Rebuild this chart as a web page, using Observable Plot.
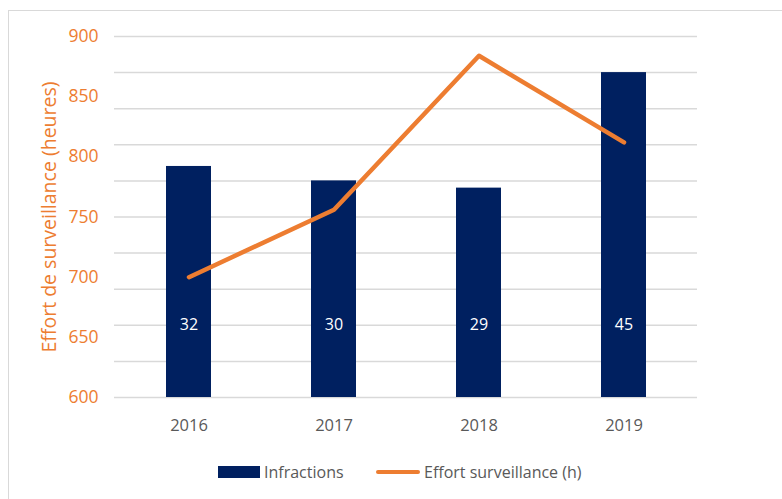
<!DOCTYPE html>
<html>
<head>
<meta charset="utf-8">
<script src="https://cdn.jsdelivr.net/npm/d3@7"></script>
<script src="https://cdn.jsdelivr.net/npm/@observablehq/plot@0.6"></script>
<style>
  html, body { margin: 0; padding: 0; background: #fff; }
  #wrap { position: relative; width: 782px; height: 499px; overflow: hidden; font-family: "Open Sans", sans-serif; }
  #frame { position: absolute; left: 8px; top: 10px; width: 800px; height: 520px; border: 1.5px solid #d9d9d9; box-sizing: border-box; pointer-events: none; }
  #chart { position: absolute; left: 0; top: 0; }
  #legend { position: absolute; left: 0; top: 445px; width: 782px; height: 54px; color: #595959; font-size: 16px; }
  .sw { position: absolute; }
  .lt { position: absolute; line-height: 20px; white-space: nowrap; }
</style>
</head>
<body>
<div id="wrap">
  <div id="chart"></div>
  <div id="legend">
    <div class="sw" style="left:218px; top:21px; width:42px; height:12px; background:#002060;"></div>
    <div class="lt" style="left:264px; top:17px;">Infractions</div>
    <div class="sw" style="left:376px; top:25px; width:44px; height:4px; border-radius:2px; background:#ED7D31;"></div>
    <div class="lt" style="left:424px; top:17px;">Effort surveillance (h)</div>
  </div>
  <div id="frame"></div>
</div>
<script>
const years = ["2016", "2017", "2018", "2019"];
const infractions = [32, 30, 29, 45];
const effort = [700, 756, 884, 812];
const yTicks = [600, 650, 700, 750, 800, 850, 900];
const secondaryTicks = [0, 5, 10, 15, 20, 25, 30, 35, 40, 45, 50];
const labelLevel = 10; // infractions-axis level where the data labels sit

// secondary (infractions) axis 0–50 mapped onto the primary 600–900 axis
const toPrimary = v => 600 + v * (300 / 50);

const data = years.map((y, i) => ({ year: y, inf: infractions[i], effort: effort[i] }));

const orange = "#ED7D31";
const navy = "#002060";

const chart = Plot.plot({
  width: 782,
  height: 445,
  marginTop: 36,
  marginBottom: 48,
  marginLeft: 114,
  marginRight: 85,
  style: { fontFamily: "Open Sans, sans-serif", fontSize: "16px", background: "transparent" },
  x: { domain: years, paddingInner: 0.69, paddingOuter: 0.345, label: null },
  y: { domain: [600, 900], label: null },
  marks: [
    Plot.ruleY(secondaryTicks.map(toPrimary), { stroke: "#d9d9d9", strokeWidth: 1.5 }),
    Plot.barY(data, { x: "year", y1: 600, y2: d => toPrimary(d.inf), fill: navy }),
    Plot.text(data, { x: "year", y: () => toPrimary(labelLevel), text: d => String(d.inf), fill: "white", fontSize: 16 }),
    Plot.line(data, { x: "year", y: "effort", stroke: orange, strokeWidth: 4.5, strokeLinecap: "round", strokeLinejoin: "round" }),
    Plot.axisX({ tickSize: 0, tickPadding: 22, fill: "#595959", fontSize: 16.5, label: null }),
    Plot.axisY({ ticks: yTicks, tickSize: 0, tickPadding: 16, fill: orange, fontSize: 17.5, tickFormat: d => String(d), label: null }),
    Plot.axisY({ ticks: [], tickSize: 0, fill: orange, fontSize: 19.5,
      label: "Effort de surveillance (heures)", labelAnchor: "center", labelOffset: 72, labelArrow: "none" })
  ]
});
document.getElementById("chart").appendChild(chart);
</script>
</body>
</html>
